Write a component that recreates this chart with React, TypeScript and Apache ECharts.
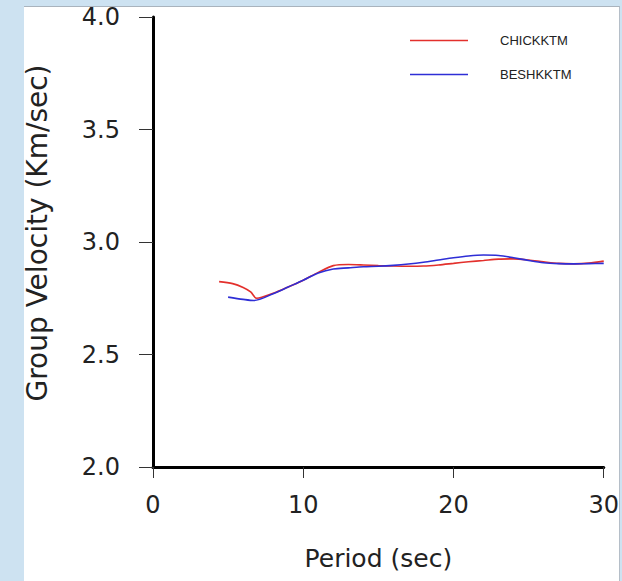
import React, { useEffect, useRef } from "react";
import * as echarts from "echarts";

const seriesNames = ["CHICKKTM", "BESHKKTM"];
const seriesColors = ["#e3302c", "#2e2ed6"];

const chickPeriod = [4.4, 5.3, 6.0, 6.5, 6.9, 8, 9, 10, 11, 12, 13, 14, 15, 16, 17, 18, 19, 20, 21, 22, 23, 24, 25, 26, 27, 28, 29, 30];
const chickVel = [2.824, 2.815, 2.798, 2.778, 2.75, 2.772, 2.8, 2.83, 2.865, 2.895, 2.9, 2.898, 2.895, 2.893, 2.892, 2.893, 2.898, 2.905, 2.912, 2.918, 2.924, 2.925, 2.92, 2.912, 2.905, 2.903, 2.906, 2.915];

const beshPeriod = [5.0, 6.0, 6.7, 8, 9, 10, 11, 12, 13, 14, 15, 16, 17, 18, 19, 20, 21, 22, 23, 24, 25, 26, 27, 28, 29, 30];
const beshVel = [2.755, 2.745, 2.74, 2.77, 2.8, 2.83, 2.862, 2.88, 2.885, 2.89, 2.892, 2.896, 2.902, 2.91, 2.92, 2.93, 2.938, 2.942, 2.94, 2.93, 2.918, 2.908, 2.904, 2.903, 2.904, 2.905];

const xAxisName = "Period (sec)";
const yAxisName = "Group Velocity (Km/sec)";

const FONT = "DejaVu Sans";

export default function App() {
  const ref = useRef<HTMLDivElement>(null);
  useEffect(() => {
    if (!ref.current) return;
    const chart = echarts.init(ref.current, null, { renderer: "svg" });
    const pairs = (xs: number[], ys: number[]) => xs.map((x, i) => [x, ys[i]]);
    chart.setOption({
      animation: false,
      backgroundColor: "transparent",
      grid: { left: 153, right: 15, top: 17, bottom: 114, containLabel: false },
      legend: {
        orient: "vertical",
        left: 410,
        top: 34,
        padding: 0,
        itemGap: 21,
        itemWidth: 58,
        itemHeight: 1.5,
        icon: "rect",
        data: seriesNames,
        textStyle: {
          fontFamily: "Liberation Sans",
          fontSize: 13,
          color: "#222",
          padding: [0, 0, 0, 27],
        },
      },
      xAxis: {
        type: "value",
        min: 0,
        max: 30,
        interval: 10,
        name: xAxisName,
        nameLocation: "middle",
        nameGap: 79,
        nameTextStyle: { fontFamily: FONT, fontSize: 25, color: "#222" },
        axisLine: { show: true, lineStyle: { color: "#000", width: 3 } },
        axisTick: { show: true, length: 11, lineStyle: { color: "#333", width: 1 } },
        axisLabel: { fontFamily: FONT, fontSize: 24, color: "#222", margin: 26 },
        splitLine: { show: false },
      },
      yAxis: {
        type: "value",
        min: 2,
        max: 4,
        interval: 0.5,
        name: yAxisName,
        nameLocation: "middle",
        nameGap: 102,
        nameTextStyle: {
          fontFamily: FONT,
          fontSize: 28,
          color: "#222",
          padding: [0, 0, 0, 18],
        },
        axisLine: { show: true, lineStyle: { color: "#000", width: 3 } },
        axisTick: { show: true, length: 14, lineStyle: { color: "#333", width: 1 } },
        axisLabel: {
          fontFamily: FONT,
          fontSize: 24,
          color: "#222",
          margin: 33,
          formatter: (v: number) => v.toFixed(1),
        },
        splitLine: { show: false },
      },
      series: [
        {
          name: seriesNames[0],
          type: "line",
          data: pairs(chickPeriod, chickVel),
          showSymbol: false,
          symbol: "none",
          smooth: 0.3,
          color: seriesColors[0],
          lineStyle: { width: 1.6, color: seriesColors[0] },
          z: 2,
        },
        {
          name: seriesNames[1],
          type: "line",
          data: pairs(beshPeriod, beshVel),
          showSymbol: false,
          symbol: "none",
          smooth: 0.3,
          color: seriesColors[1],
          lineStyle: { width: 1.6, color: seriesColors[1] },
          z: 3,
        },
      ],
    });
    return () => chart.dispose();
  }, []);

  return (
    <div
      style={{
        position: "fixed",
        left: 0,
        top: 0,
        width: 622,
        height: 581,
        background: "#cde2f1",
        overflow: "hidden",
      }}
    >
      <div
        style={{
          position: "absolute",
          left: 24,
          top: 6,
          width: 595,
          height: 575,
          background: "#ffffff",
          borderTop: "1px solid #a9b3bd",
          borderRight: "1px solid #b5bec8",
        }}
      />
      <div
        ref={ref}
        style={{ position: "absolute", left: 0, top: 0, width: 622, height: 581 }}
      />
    </div>
  );
}
